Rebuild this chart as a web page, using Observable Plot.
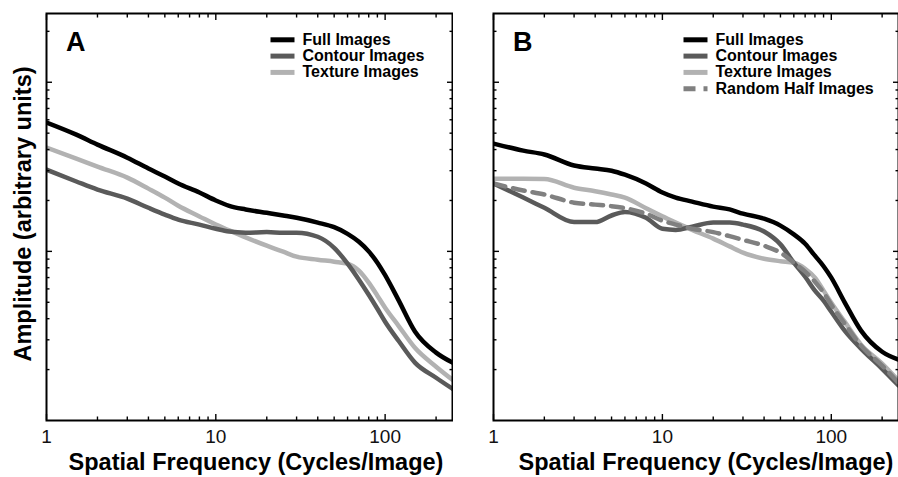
<!DOCTYPE html>
<html><head><meta charset="utf-8">
<script src="https://cdn.jsdelivr.net/npm/d3@7"></script>
<script src="https://cdn.jsdelivr.net/npm/@observablehq/plot@0.6"></script>
<style>
body{margin:0;background:#fff;}
#wrap{display:flex;width:898px;height:477px;overflow:hidden;background:#fff;}
svg{display:block;}
</style></head><body><div id="wrap"></div>
<script>
// Spatial frequency samples (cycles/image)
const freq = [1,1.5,2,3,4,5,6,8,10,12,15,20,25,30,40,50,60,70,80,90,100,120,150,200,250];

// Panel A amplitudes (arbitrary units)
const fullA    = [5.78,4.90,4.28,3.58,3.09,2.77,2.52,2.23,2.00,1.86,1.77,1.69,1.63,1.58,1.48,1.39,1.27,1.14,1.00,0.857,0.723,0.515,0.336,0.252,0.220];
const contourA = [3.04,2.59,2.32,2.05,1.81,1.65,1.54,1.44,1.36,1.31,1.29,1.30,1.29,1.29,1.22,1.05,0.846,0.680,0.554,0.458,0.384,0.296,0.220,0.179,0.154];
const textureA = [4.11,3.54,3.17,2.73,2.35,2.08,1.86,1.61,1.44,1.33,1.21,1.08,0.996,0.930,0.893,0.869,0.846,0.769,0.653,0.547,0.464,0.363,0.269,0.208,0.174];

// Panel B amplitudes
const fullB    = [4.34,3.94,3.74,3.22,3.09,3.00,2.84,2.52,2.23,2.08,1.97,1.84,1.77,1.67,1.56,1.42,1.26,1.11,0.943,0.817,0.699,0.500,0.340,0.255,0.229];
const contourB = [2.52,2.08,1.81,1.49,1.49,1.63,1.71,1.58,1.36,1.34,1.40,1.48,1.48,1.44,1.31,1.10,0.857,0.708,0.586,0.511,0.440,0.340,0.266,0.202,0.161];
const textureB = [2.69,2.69,2.68,2.38,2.27,2.17,2.08,1.80,1.61,1.48,1.34,1.19,1.07,0.982,0.905,0.875,0.857,0.790,0.699,0.586,0.497,0.384,0.281,0.217,0.172];
const randomB  = [2.52,2.29,2.17,1.94,1.89,1.85,1.80,1.67,1.52,1.44,1.36,1.30,1.23,1.17,1.08,0.982,0.857,0.759,0.662,0.570,0.484,0.374,0.277,0.211,0.167];

const seriesNames = ["Full Images","Contour Images","Texture Images","Random Half Images"];
const xTickLabels = [1,10,100];
const xMinor = [2,3,4,5,6,7,8,9,20,30,40,50,60,70,80,90,200];
const yMajor = [1,10];
const yMinor = [0.2,0.3,0.4,0.5,0.6,0.7,0.8,0.9,2,3,4,5,6,7,8,9,20];
const xTitle = "Spatial Frequency (Cycles/Image)";
const yTitle = "Amplitude (arbitrary units)";

const FONT = "'Liberation Sans', Arial, Helvetica, sans-serif";
const styles = {
  "Full Images": {color:"#000000", dash:null},
  "Contour Images": {color:"#5a5a5a", dash:null},
  "Texture Images": {color:"#b2b2b2", dash:null},
  "Random Half Images": {color:"#808080", dash:"12,8"}
};

function panel(opts) {
  const {width, marginLeft, marginRight, series, order, letter, letterX, legendX, showYTitle, xTitleX} = opts;
  const H = 477, MT = 13, MB = 57;
  const tickAxes = [];
  const mk = (ax, anchor, ticks, size) => {
    const o = {anchor, ticks, tickSize:size, tickFormat:()=>"", label:null, stroke:"#000", strokeWidth:1.4};
    if (anchor==="bottom") o.dy = -size;
    if (anchor==="top") o.dy = size;
    if (anchor==="left") o.dx = size;
    if (anchor==="right") o.dx = -size;
    return ax === "x" ? Plot.axisX(o) : Plot.axisY(o);
  };
  for (const a of ["bottom","top"]) { tickAxes.push(mk("x", a, xTickLabels, 6)); tickAxes.push(mk("x", a, xMinor, 3.5)); }
  for (const a of ["left","right"]) { tickAxes.push(mk("y", a, yMajor, 6)); tickAxes.push(mk("y", a, yMinor, 3.5)); }

  const lines = order.map(name => {
    const vals = series[name];
    const rows = vals.map((v,i)=>({f:freq[i], a:v}));
    return Plot.line(rows, {x:"f", y:"a", stroke:styles[name].color, strokeWidth:4.5,
      strokeDasharray:styles[name].dash, curve:"monotone-x", clip:true});
  });

  const svg = Plot.plot({
    width, height:H, marginLeft, marginRight, marginTop:MT, marginBottom:MB,
    style:{fontFamily:FONT, background:"#fff", color:"#000"},
    x:{type:"log", domain:[1,250]},
    y:{type:"log", domain:[0.1,25.5]},
    marks:[
      ...lines,
      ...tickAxes,
      Plot.axisX({anchor:"bottom", ticks:xTickLabels, tickSize:0, tickPadding:9, tickFormat:d=>String(d), label:null, fontSize:19, fill:"#111"}),
      Plot.frame({stroke:"#000", strokeWidth:2})
    ]
  });

  const s = d3.select(svg);
  const g = s.append("g").attr("text-anchor","start").attr("font-family", FONT).attr("fill","#000");
  g.append("text").attr("x", letterX).attr("y", 51).attr("font-size", 27).attr("font-weight", "bold").text(letter);
  const names = Object.keys(series);
  names.forEach((name, i) => {
    const by = 44.8 + i*16.3;
    g.append("line").attr("x1", legendX).attr("x2", legendX+24).attr("y1", by-5).attr("y2", by-5)
      .attr("stroke", styles[name].color).attr("stroke-width", 5)
      .attr("stroke-dasharray", styles[name].dash ? "12,8" : null);
    g.append("text").attr("x", legendX+32).attr("y", by).attr("font-size", 16).attr("font-weight","bold").text(name);
  });
  g.append("text").attr("x", xTitleX).attr("y", 470).attr("text-anchor","middle").attr("font-size", 23.5)
    .attr("font-weight","bold").text(xTitle);
  if (showYTitle) {
    g.append("text").attr("transform","translate(31,214) rotate(-90)").attr("text-anchor","middle")
      .attr("font-size", 23.5).attr("font-weight","bold").text(yTitle);
  }
  return svg;
}

const wrap = document.getElementById("wrap");
wrap.appendChild(panel({
  width:453, marginLeft:46, marginRight:1,
  series:{"Full Images":fullA, "Contour Images":contourA, "Texture Images":textureA},
  order:["Texture Images","Contour Images","Full Images"],
  letter:"A", letterX:66, legendX:270.5, showYTitle:true, xTitleX:256
}));
wrap.appendChild(panel({
  width:445, marginLeft:40, marginRight:0,
  series:{"Full Images":fullB, "Contour Images":contourB, "Texture Images":textureB, "Random Half Images":randomB},
  order:["Texture Images","Contour Images","Random Half Images","Full Images"],
  letter:"B", letterX:60, legendX:230.5, showYTitle:false, xTitleX:253
}));
</script></body></html>
